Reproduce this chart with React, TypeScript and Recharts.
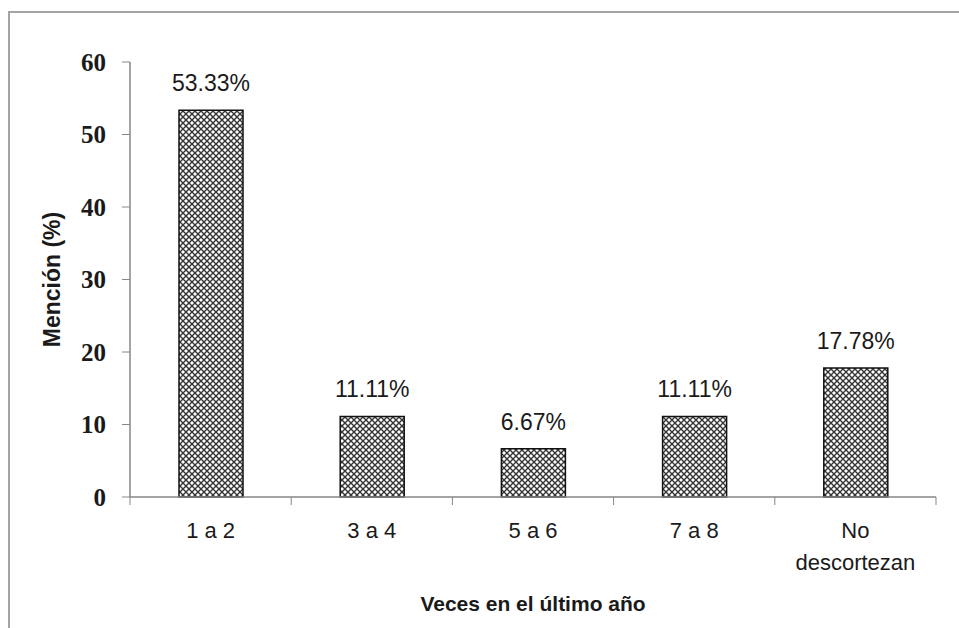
import React from 'react';
import {
  BarChart,
  Bar,
  XAxis,
  YAxis,
  LabelList,
  Label,
  Text,
} from 'recharts';

const categories = ['1 a 2', '3 a 4', '5 a 6', '7 a 8', 'No descortezan'];
const mentionPct = [53.33, 11.11, 6.67, 11.11, 17.78];
const yTicks = [0, 10, 20, 30, 40, 50, 60];

const data = categories.map((name, i) => ({name, value: mentionPct[i]}));

const CHART_W = 959;
const CHART_H = 628;
const MARGIN = {top: 62, right: 23, bottom: 0, left: 0};
const Y_W = 130;
const X_H = 131;
const AXIS_Y = CHART_H - MARGIN.bottom - X_H;
const BAND = (CHART_W - MARGIN.left - MARGIN.right - Y_W) / categories.length;

const AXIS_COLOR = '#868686';
const SANS = '"Liberation Sans", Arial, sans-serif';
const SERIF = '"Liberation Serif", "Times New Roman", serif';
const TICK_FONT = {fontFamily: SANS, fontSize: 22};

// category label centred in the band, tick marks sit on the band edges
function CategoryTick(props: any) {
  const {x, payload, index} = props;
  const left = x - BAND / 2;
  const right = x + BAND / 2;
  return (
    <g>
      <line x1={left} y1={AXIS_Y} x2={left} y2={AXIS_Y + 8} stroke={AXIS_COLOR} />
      {index === categories.length - 1 && (
        <line x1={right} y1={AXIS_Y} x2={right} y2={AXIS_Y + 8} stroke={AXIS_COLOR} />
      )}
      <Text
        x={x}
        y={AXIS_Y + 25}
        width={110}
        textAnchor="middle"
        verticalAnchor="start"
        lineHeight={32}
        style={TICK_FONT}
        fontFamily={SANS}
        fontSize={22}
        fill="#1a1a1a"
      >
        {payload.value}
      </Text>
    </g>
  );
}

function YTitle(props: any) {
  const {viewBox} = props;
  const cx = 52;
  const cy = viewBox.y + viewBox.height / 2;
  return (
    <text
      x={cx}
      y={cy}
      transform={`rotate(-90 ${cx} ${cy})`}
      textAnchor="middle"
      dominantBaseline="central"
      fontFamily={SANS}
      fontWeight="bold"
      fontSize={23}
      fill="#1a1a1a"
    >
      Mención (%)
    </text>
  );
}

function XTitle(props: any) {
  const {viewBox} = props;
  return (
    <text
      x={viewBox.x + viewBox.width / 2}
      y={AXIS_Y + 114}
      textAnchor="middle"
      fontFamily={SANS}
      fontWeight="bold"
      fontSize={21}
      fill="#1a1a1a"
    >
      Veces en el último año
    </text>
  );
}

export default function App() {
  return (
    <div
      style={{
        position: 'fixed',
        left: 0,
        top: 0,
        width: CHART_W,
        height: CHART_H,
        overflow: 'hidden',
        background: '#fff',
      }}
    >
      <div
        style={{
          position: 'absolute',
          left: 8,
          top: 11,
          width: CHART_W + 40,
          height: CHART_H + 40,
          border: '2px solid #a3a3a3',
          boxSizing: 'border-box',
        }}
      />
      <BarChart
        width={CHART_W}
        height={CHART_H}
        data={data}
        margin={MARGIN}
        style={{position: 'absolute', left: 0, top: 0}}
      >
        <defs>
          <pattern id="hatch" width="6" height="6" patternUnits="userSpaceOnUse">
            <rect width="6" height="6" fill="#ffffff" />
            <path d="M0 0L6 6M6 0L0 6" stroke="#353535" strokeWidth="1.4" />
          </pattern>
        </defs>
        <XAxis
          dataKey="name"
          height={X_H}
          interval={0}
          axisLine={{stroke: AXIS_COLOR, strokeWidth: 1.5}}
          tickLine={false}
          tick={<CategoryTick />}
        >
          <Label content={<XTitle />} />
        </XAxis>
        <YAxis
          width={Y_W}
          domain={[0, 60]}
          ticks={yTicks}
          interval={0}
          tickSize={8}
          tickMargin={16}
          axisLine={{stroke: AXIS_COLOR, strokeWidth: 1.5}}
          tickLine={{stroke: AXIS_COLOR}}
          tick={{fontFamily: SERIF, fontSize: 25, fontWeight: 'bold', fill: '#1a1a1a'}}
        >
          <Label content={<YTitle />} />
        </YAxis>
        <Bar
          dataKey="value"
          barSize={64}
          fill="url(#hatch)"
          stroke="#111"
          strokeWidth={1.5}
          isAnimationActive={false}
        >
          <LabelList
            dataKey="value"
            position="top"
            offset={19}
            formatter={(v: any) => `${Number(v).toFixed(2)}%`}
            style={{fontFamily: SANS, fontSize: 23, fill: '#1a1a1a'}}
          />
        </Bar>
      </BarChart>
    </div>
  );
}
